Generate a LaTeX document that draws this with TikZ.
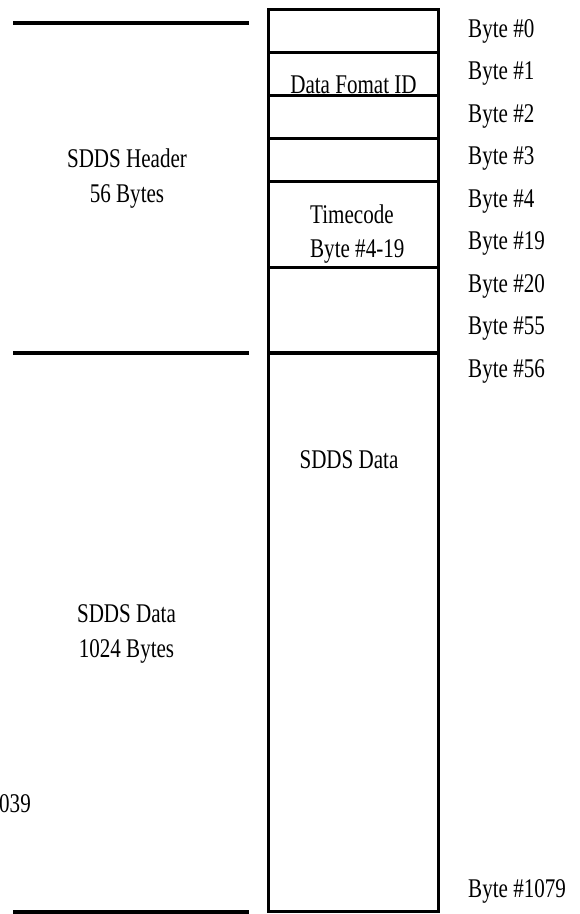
\documentclass[tikz,border=0pt]{standalone}
\usepackage{fontspec}
\setmainfont[FakeStretch=0.78]{Liberation Serif}
\begin{document}
\begin{tikzpicture}[x=1pt,y=-1pt,
  lbl/.style={inner sep=0pt, font=\fontsize{27}{30}\selectfont, anchor=base},
  bylbl/.style={lbl, anchor=base west},
  rulel/.style={line width=4pt},
  cell/.style={line width=3pt},
  celldiv/.style={line width=4pt}]
\useasboundingbox (0,0) rectangle (579,914);
% left rules
\coordinate (r1a) at (13,22.5);  \coordinate (r1b) at (249,22.5);
\coordinate (r2a) at (13,352.5); \coordinate (r2b) at (249,352.5);
\coordinate (r3a) at (13,912);   \coordinate (r3b) at (249,912);
\draw[rulel] (r1a) -- (r1b);
\draw[rulel] (r2a) -- (r2b);
\draw[rulel] (r3a) -- (r3b);
% texts inside cells
\node[lbl] (dfid) at (353.5,93) {Data Fomat ID};
\node[lbl, anchor=base west] (tc1) at (310,223) {Timecode};
\node[lbl, anchor=base west] (tc2) at (310,257) {Byte \#4-19};
\node[lbl] (sdata) at (349,468) {SDDS Data};
% cells
\draw[cell] (268,9.5) rectangle (438.5,911);
\draw[cell] (268,52) -- (438.5,52);
\draw[cell] (268,95) -- (438.5,95);
\draw[cell] (268,138) -- (438.5,138);
\draw[cell] (268,181) -- (438.5,181);
\draw[cell] (268,267) -- (438.5,267);
\draw[celldiv] (268,353) -- (438.5,353);
% left labels
\node[lbl] (hdr1) at (127,167) {SDDS Header};
\node[lbl] (hdr2) at (127,202) {56 Bytes};
\node[lbl] (dat1) at (126.5,622) {SDDS Data};
\node[lbl] (dat2) at (126.5,657) {1024 Bytes};
\node[lbl, anchor=base east] (cut) at (31,812) {039};
% byte labels
\node[bylbl] (b0) at (468,37) {Byte \#0};
\node[bylbl] (b1) at (468,79.5) {Byte \#1};
\node[bylbl] (b2) at (468,122) {Byte \#2};
\node[bylbl] (b3) at (468,164.5) {Byte \#3};
\node[bylbl] (b4) at (468,207) {Byte \#4};
\node[bylbl] (b19) at (468,249.5) {Byte \#19};
\node[bylbl] (b20) at (468,292) {Byte \#20};
\node[bylbl] (b55) at (468,334.5) {Byte \#55};
\node[bylbl] (b56) at (468,377) {Byte \#56};
\node[bylbl] (b1079) at (468,897) {Byte \#1079};
\end{tikzpicture}
\end{document}
